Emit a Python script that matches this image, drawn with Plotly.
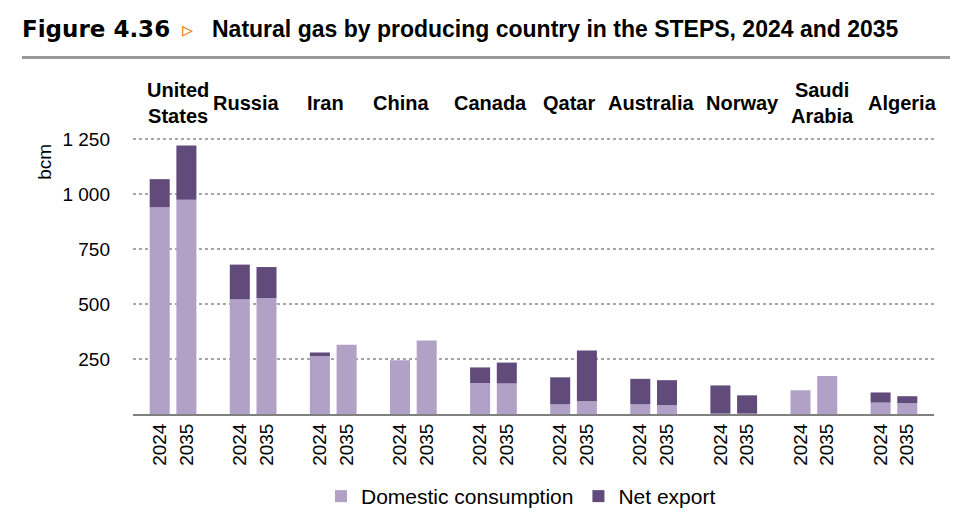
import plotly.graph_objects as go

countries = ["United<br>States", "Russia", "Iran", "China", "Canada", "Qatar",
             "Australia", "Norway", "Saudi<br>Arabia", "Algeria"]
years = ["2024", "2035"]
domestic_2024 = [941, 523, 263, 245, 141, 44, 44, 3, 108, 52]
domestic_2035 = [975, 528, 315, 335, 139, 58, 40, 3, 173, 49]
export_2024 = [128, 157, 17, 0, 71, 123, 116, 127, 0, 46]
export_2035 = [247, 141, 0, 0, 95, 231, 114, 82, 0, 32]
y_ticks = [250, 500, 750, 1000, 1250]
y_ticktext = ["250", "500", "750", "1 000", "1 250"]

light = "#b1a1c7"
dark = "#604b7a"
font = "Liberation Sans"

# pixel geometry of the plot area as seen on the page
# (the page body adds an 8px margin around the figure)
body = 8
left, right, top, bottom = 133, 934, 135.3, 413.7


def px_x(p):
    return (p - left) / (right - left)


def px_y(p):
    return (bottom - p) / (bottom - top)


# bar positions: two bars per country group
offset = 1 / 6
x_pos, x_text, dom, exp = [], [], [], []
for i in range(len(countries)):
    for j, yr in enumerate(years):
        x_pos.append(i + (offset if j else -offset))
        x_text.append(yr)
    dom += [domestic_2024[i], domestic_2035[i]]
    exp += [export_2024[i], export_2035[i]]

fig = go.Figure()
fig.add_trace(go.Bar(x=x_pos, y=dom, name="Domestic consumption", width=0.25,
                     marker=dict(color=light, line=dict(width=0))))
fig.add_trace(go.Bar(x=x_pos, y=exp, name="Net export", width=0.25,
                     marker=dict(color=dark, line=dict(width=0))))

# labels in the source are not quite centred on their groups
label_shift = [5, -7, -8, -12, -3, -5, -3, 9, 9, 9]
annotations = []
for i, c in enumerate(countries):
    annotations.append(dict(x=i, y=px_y(103), xref="x", yref="paper", yanchor="middle",
                            xshift=label_shift[i], text=f"<b>{c}</b>", showarrow=False,
                            font=dict(family=font, size=20, color="black")))

annotations += [
    dict(x=px_x(45), y=px_y(162), xref="paper", yref="paper", text="bcm", textangle=-90,
         xanchor="center", yanchor="middle",
         showarrow=False, font=dict(family=font, size=19, color="black")),
    dict(x=px_x(20), y=px_y(30), xref="paper", yref="paper", text="<b>Figure 4.36</b>",
         showarrow=False, xanchor="left", yanchor="middle",
         font=dict(family="DejaVu Sans", size=23, color="black")),
    dict(x=px_x(180), y=px_y(30), xref="paper", yref="paper", text="▹",
         showarrow=False, xanchor="left", yanchor="middle",
         font=dict(family="DejaVu Sans", size=22, color="#e8891e")),
    dict(x=px_x(210), y=px_y(30), xref="paper", yref="paper",
         text="<b>Natural gas by producing country in the STEPS, 2024 and 2035</b>",
         showarrow=False, xanchor="left", yanchor="middle",
         font=dict(family=font, size=23, color="black")),
]

fig.update_layout(
    width=976,
    height=516,
    barmode="relative",
    margin=dict(l=left - body, r=976 - right + body, t=top - body,
                b=516 - bottom + body, autoexpand=False),
    plot_bgcolor="white",
    paper_bgcolor="white",
    font=dict(family=font, size=18, color="black"),
    showlegend=True,
    legend=dict(orientation="h", x=px_x(521), xanchor="center", y=px_y(496),
                yanchor="middle", font=dict(family=font, size=21), itemwidth=30,
                traceorder="normal"),
    annotations=annotations,
    shapes=[dict(type="line", xref="paper", yref="paper",
                 x0=px_x(22), x1=px_x(950), y0=px_y(58), y1=px_y(58),
                 line=dict(color="#999999", width=3))],
)
fig.update_xaxes(range=[-0.5, len(countries) - 0.5], tickvals=x_pos, ticktext=x_text,
                 tickangle=-90, showgrid=False, zeroline=False, showline=True,
                 linecolor="#808080", linewidth=2, ticks="",
                 tickfont=dict(family=font, size=19))
fig.update_yaxes(range=[0, 1270], tickvals=y_ticks, ticktext=y_ticktext,
                 showgrid=True, gridcolor="#a6a6a6", griddash="dot", gridwidth=1.5,
                 zeroline=False, showline=False, ticklabelstandoff=22,
                 tickfont=dict(family=font, size=19))

fig.write_html("out.html")
